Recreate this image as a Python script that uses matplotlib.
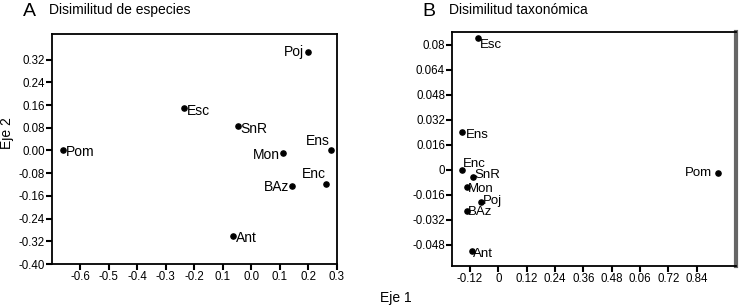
import matplotlib
matplotlib.use("Agg")
import matplotlib.pyplot as plt

plt.rcParams['font.family'] = ['Liberation Sans', 'DejaVu Sans']

# panel A: species dissimilarity
sitesA = ["Poj", "Esc", "SnR", "Pom", "Mon", "Ens", "Enc", "BAz", "Ant"]
xA = [0.198, -0.236, -0.047, -0.66, 0.11, 0.279, 0.261, 0.142, -0.064]
yA = [0.348, 0.148, 0.085, 0.0, -0.01, 0.0, -0.117, -0.125, -0.30]
xticksA = [-0.6, -0.5, -0.4, -0.3, -0.2, -0.1, 0.0, 0.1, 0.2, 0.3]
xlabelsA = ["-0.6", "-0.5", "-0.4", "-0.3", "-0.2", "0.1", "0.0", "0.1", "0.2", "0.3"]
yticksA = [0.32, 0.24, 0.16, 0.08, 0.0, -0.08, -0.16, -0.24, -0.32, -0.40]
ylabelsA = ["0.32", "0.24", "0.16", "0.08", "0.00", "-0.08", "-0.16", "-0.24", "-0.32", "-0.40"]

# panel B: taxonomic dissimilarity
sitesB = ["Esc", "Ens", "Enc", "SnR", "Mon", "Poj", "BAz", "Ant", "Pom"]
xB = [-0.085, -0.153, -0.154, -0.108, -0.134, -0.072, -0.134, -0.113, 0.93]
yB = [0.0847, 0.0241, 0.0, -0.0043, -0.011, -0.0207, -0.0264, -0.0519, -0.0021]
xticksB = [-0.12, 0, 0.12, 0.24, 0.36, 0.48, 0.60, 0.72, 0.84]
xlabelsB = ["-0.12", "0", "0.12", "0.24", "0.36", "0.48", "0.06", "0.72", "0.84"]
yticksB = [0.08, 0.064, 0.048, 0.032, 0.016, 0, -0.016, -0.032, -0.048]
ylabelsB = ["0.08", "0.064", "0.048", "0.032", "0.016", "0", "-0.016", "-0.032", "-0.048"]

# label offsets in points (dx, dy, ha, va)
offA = {"Poj": (-3, 0, "right", "center"), "Esc": (2, -2, "left", "center"),
        "SnR": (2, -2, "left", "center"), "Pom": (2, -1, "left", "center"),
        "Mon": (-2, -1, "right", "center"), "Ens": (-1, 2, "right", "bottom"),
        "Enc": (0, 2, "right", "bottom"), "BAz": (-2, -1, "right", "center"),
        "Ant": (2, -2, "left", "center")}
offB = {"Esc": (1, -1, "left", "top"), "Ens": (3, -2, "left", "center"),
        "Enc": (1, 0, "left", "bottom"), "SnR": (1, 1, "left", "center"),
        "Mon": (1, -1.5, "left", "center"), "Poj": (1, 1, "left", "center"),
        "BAz": (1, -1, "left", "center"), "Ant": (1, -2, "left", "center"),
        "Pom": (-4, 0, "right", "center")}

fig = plt.figure(figsize=(7.39, 3.07), dpi=100)
axA = fig.add_axes([0.0704, 0.140, 0.3856, 0.749])
axB = fig.add_axes([0.6116, 0.134, 0.3844, 0.762])


def style(ax):
    for s in ax.spines.values():
        s.set_linewidth(1.3)
    ax.tick_params(direction="out", length=4, width=1.5, labelsize=8.3, pad=1)


axA.scatter(xA, yA, s=14, color="black", zorder=3)
for name, x, y in zip(sitesA, xA, yA):
    dx, dy, ha, va = offA[name]
    axA.annotate(name, (x, y), xytext=(dx, dy), textcoords="offset points",
                 ha=ha, va=va, fontsize=10)
axA.set_xlim(-0.698, 0.30)
axA.set_ylim(-0.40, 0.41)
axA.set_xticks(xticksA)
axA.set_xticklabels(xlabelsA)
axA.set_yticks(yticksA)
axA.set_yticklabels(ylabelsA)
style(axA)

axB.scatter(xB, yB, s=14, color="black", zorder=3)
for name, x, y in zip(sitesB, xB, yB):
    dx, dy, ha, va = offB[name]
    axB.annotate(name, (x, y), xytext=(dx, dy), textcoords="offset points",
                 ha=ha, va=va, fontsize=9.5)
axB.set_xlim(-0.196, 1.007)
axB.set_ylim(-0.0615, 0.0883)
axB.set_xticks(xticksB)
axB.set_xticklabels(xlabelsB)
axB.set_yticks(yticksB)
axB.set_yticklabels(ylabelsB)
style(axB)
axB.spines["right"].set_color("#666666")
axB.spines["right"].set_linewidth(3)

fig.text(0.031, 0.963, "A", fontsize=14, va="center", ha="left")
fig.text(0.066, 0.966, "Disimilitud de especies", fontsize=10, va="center", ha="left")
fig.text(0.571, 0.963, "B", fontsize=14, va="center", ha="left")
fig.text(0.607, 0.966, "Disimilitud taxonómica", fontsize=10, va="center", ha="left")
fig.text(0.535, 0.03, "Eje 1", fontsize=10, va="center", ha="center")
fig.text(0.010, 0.567, "Eje 2", fontsize=10, va="center", ha="center", rotation=90)

fig.savefig("out.png", dpi=100)
